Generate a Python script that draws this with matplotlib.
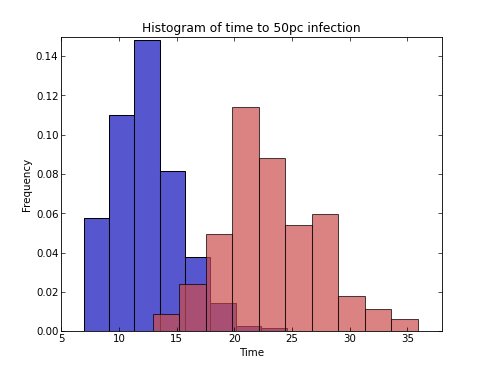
import numpy as np
import matplotlib
matplotlib.use("Agg")
import matplotlib.pyplot as plt
from matplotlib.ticker import FormatStrFormatter

# blue: first histogram, red: second (normalised frequencies)
blue_start, blue_width = 6.93, 2.20
blue_heights = [0.0574, 0.110, 0.1485, 0.0816, 0.0378, 0.0143, 0.0027, 0.0014]
red_start, red_width = 12.91, 2.30
red_heights = [0.0087, 0.0241, 0.0497, 0.1142, 0.0881, 0.0543, 0.0596, 0.0178, 0.0115, 0.0061]

xticks = [5, 10, 15, 20, 25, 30, 35]
yticks = [0.00, 0.02, 0.04, 0.06, 0.08, 0.10, 0.12, 0.14]

blue_left = blue_start + blue_width * np.arange(len(blue_heights))
red_left = red_start + red_width * np.arange(len(red_heights))

plt.rcParams["font.size"] = 12
fig = plt.figure(figsize=(8, 6), dpi=61.375)
ax = fig.add_axes([0.125, 0.1, 0.775, 0.8])

ax.bar(blue_left, blue_heights, width=blue_width, align="edge",
       color="#5656cf", edgecolor="black", linewidth=1.2)
ax.bar(red_left, red_heights, width=red_width, align="edge",
       color=(0.8, 0.3, 0.3), edgecolor="black", linewidth=1.2, alpha=0.7)

ax.set_xlim(5, 38)
ax.set_ylim(0, 0.15)
ax.set_xticks(xticks)
ax.set_yticks(yticks)
ax.yaxis.set_major_formatter(FormatStrFormatter("%.2f"))
ax.tick_params(direction="in", top=True, right=True, length=5, width=0.8)
for s in ax.spines.values():
    s.set_linewidth(1.0)

ax.set_title("Histogram of time to 50pc infection")
ax.set_xlabel("Time")
ax.set_ylabel("Frequency")

fig.savefig("out.png", dpi=61.375)
